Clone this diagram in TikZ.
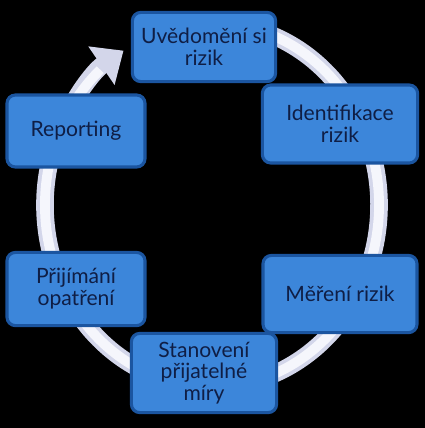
\documentclass[tikz,border=0pt]{standalone}
\usepackage{fontspec}
\setmainfont{Lato}
\usetikzlibrary{arrows.meta,positioning}
\definecolor{StepBlue}{HTML}{3C86DA}
\definecolor{StepEdge}{HTML}{1B55A0}
\definecolor{StepText}{HTML}{0F1E45}
\definecolor{RingGrey}{HTML}{D3D6EA}
\definecolor{RingWhite}{HTML}{F5F6FC}
\tikzset{
  RB/.style={rectangle,rounded corners=6pt,
             text centered,align=center,draw=StepEdge,fill=StepBlue,
             line width=2.2pt,text=StepText,inner sep=2pt,
             font=\fontsize{15}{15.5}\selectfont},
  ring/.style={line width=12.5pt,draw=RingGrey,
               -{Triangle[length=19pt,width=32pt]}},
  ringhi/.style={line width=7pt,draw=RingWhite}
}
\begin{document}
\begin{tikzpicture}[x=0.025cm,y=-0.025cm]
  \fill[black] (0,0) rectangle (425,428);
  \useasboundingbox (0,0) rectangle (425,428);

  % cycle ring
  \draw[ring] (212,205) ++(-69:167 and 182) arc[start angle=-69,end angle=238,x radius=167,y radius=182];
  \draw[ringhi] (212,205) ++(-69:167 and 182) arc[start angle=-69,end angle=228,x radius=167,y radius=182];

  \node[RB,minimum width=3.58cm,minimum height=1.73cm] (aware) at (204,47) {Uvědomění si\\rizik};
  \node[RB,minimum width=3.88cm,minimum height=1.95cm] (ident) at (340,124) {Identifikace\\rizik};
  \node[RB,minimum width=3.85cm,minimum height=1.93cm] (meas) at (340,294) {Měření rizik};
  \node[RB,minimum width=3.63cm,minimum height=1.98cm] (level) at (204,373) {Stanovení\\přijatelné\\míry};
  \node[RB,minimum width=3.45cm,minimum height=1.83cm] (act) at (76,289) {Přijímání\\opatření};
  \node[RB,minimum width=3.45cm,minimum height=1.80cm] (rep) at (76,131) {Reporting};
\end{tikzpicture}
\end{document}
